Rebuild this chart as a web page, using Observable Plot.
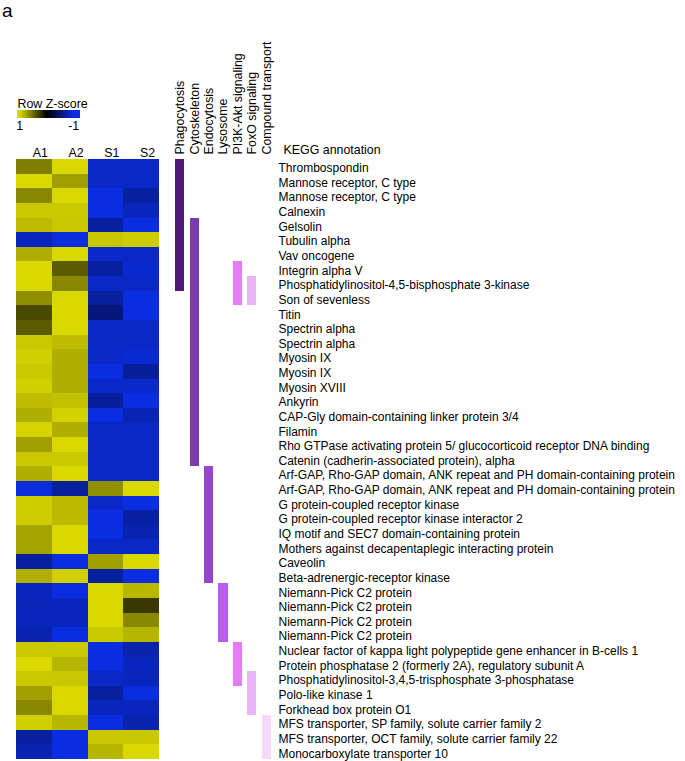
<!DOCTYPE html>
<html><head><meta charset="utf-8">
<script src="https://cdn.jsdelivr.net/npm/d3@7"></script>
<script src="https://cdn.jsdelivr.net/npm/@observablehq/plot@0.6"></script>
<style>
body{margin:0;background:#fff;}
#wrap{position:relative;width:685px;height:761px;overflow:hidden;background:#fff;font-family:"Liberation Sans",Arial,sans-serif;}
#wrap svg{position:absolute;left:0;top:0;}
#panel{position:absolute;left:2px;top:0px;font-size:19px;line-height:21px;color:#000;}
</style></head><body><div id="wrap"><div id="panel">a</div></div><script>
const samples = ["A1","A2","S1","S2"];
const genes = [
  "Thrombospondin",
  "Mannose receptor, C type",
  "Mannose receptor, C type",
  "Calnexin",
  "Gelsolin",
  "Tubulin alpha",
  "Vav oncogene",
  "Integrin alpha V",
  "Phosphatidylinositol-4,5-bisphosphate 3-kinase",
  "Son of sevenless",
  "Titin",
  "Spectrin alpha",
  "Spectrin alpha",
  "Myosin IX",
  "Myosin IX",
  "Myosin XVIII",
  "Ankyrin",
  "CAP-Gly domain-containing linker protein 3/4",
  "Filamin",
  "Rho GTPase activating protein 5/ glucocorticoid receptor DNA binding",
  "Catenin (cadherin-associated protein), alpha",
  "Arf-GAP, Rho-GAP domain, ANK repeat and PH domain-containing protein",
  "Arf-GAP, Rho-GAP domain, ANK repeat and PH domain-containing protein",
  "G protein-coupled receptor kinase",
  "G protein-coupled receptor kinase interactor 2",
  "IQ motif and SEC7 domain-containing protein",
  "Mothers against decapentaplegic interacting protein",
  "Caveolin",
  "Beta-adrenergic-receptor kinase",
  "Niemann-Pick C2 protein",
  "Niemann-Pick C2 protein",
  "Niemann-Pick C2 protein",
  "Niemann-Pick C2 protein",
  "Nuclear factor of kappa light polypeptide gene enhancer in B-cells 1",
  "Protein phosphatase 2 (formerly 2A), regulatory subunit A",
  "Phosphatidylinositol-3,4,5-trisphosphate 3-phosphatase",
  "Polo-like kinase 1",
  "Forkhead box protein O1",
  "MFS transporter, SP family, solute carrier family 2",
  "MFS transporter, OCT family, solute carrier family 22",
  "Monocarboxylate transporter 10"
];
// Row Z-scores (display clamped to [-1, 1])
const zA1 = [0.59,1,0.63,0.93,0.87,-0.84,0.8,1,1,0.66,0.34,0.42,0.93,0.96,0.93,0.96,0.87,0.81,0.98,0.74,0.93,0.81,-0.97,0.95,0.95,0.76,0.76,-0.7,0.81,-0.84,-0.82,-0.84,-0.78,0.93,1,0.93,0.74,0.63,0.96,-0.7,-0.78];
const zA2 = [1,0.74,1,0.93,0.92,-0.97,1,0.42,0.63,1,1,1,0.87,0.81,0.81,0.81,0.9,0.97,0.81,1,0.93,1,-0.7,0.86,0.86,1,1,-1,0.96,-1,-0.84,-0.84,-1,0.93,0.84,0.92,1,1,0.85,-1,-1];
const zS1 = [-0.88,-0.88,-1,-1,-0.7,0.92,-0.9,-0.7,-0.88,-0.7,-0.54,-0.88,-0.88,-0.88,-1,-0.9,-0.68,-1,-0.88,-0.88,-0.88,-0.88,0.67,-0.88,-1,-1,-0.88,0.74,-0.7,1,1,1,0.93,-1,-1,-0.88,-0.7,-0.84,-1,0.92,0.84];
const zS2 = [-0.88,-0.88,-0.7,-0.84,-1,0.95,-0.88,-0.92,-0.88,-1,-1,-0.88,-0.88,-0.93,-0.68,-0.9,-1,-0.8,-0.88,-0.88,-0.88,-0.88,1,-1,-0.72,-0.78,-0.88,1,-1,0.85,0.26,0.63,0.84,-0.77,-0.84,-0.84,-1,-0.84,-0.77,0.92,1];

const keggCategories = ["Phagocytosis","Cytoskeleton","Endocytosis","Lysosome","PI3K-Akt signaling","FoxO signaling","Compound transport"];
const keggColors = ["#4e1a7c","#7a3cb0","#9447cc","#b85ff0","#e47cf4","#e8b4f7","#f6d9f9"];
const phagocytosisRows = [1,2,3,4,5,6,7,8,9];
const cytoskeletonRows = [5,6,7,8,9,10,11,12,13,14,15,16,17,18,19,20,21];
const endocytosisRows = [22,23,24,25,26,27,28,29];
const lysosomeRows = [30,31,32,33];
const pi3kAktRows = [8,9,10,34,35,36];
const foxoRows = [9,10,36,37,38];
const compoundTransportRows = [39,40,41];
const keyTicks = [1, -1];
const keyTitle = "Row Z-score";
const annotationTitle = "KEGG annotation";

const W = 685, H = 761, FS = 12.4, FSR = 12;
const font = {fontFamily: '"Liberation Sans", Arial, sans-serif', fontSize: FS + "px", background: "transparent", overflow: "visible"};
const colorOpts = {type: "linear", domain: [-1, 0, 1], range: ["#0a2de2", "#000000", "#d9d800"], clamp: true, interpolate: "rgb"};
const rowIds = genes.map((g, i) => i);

const cells = [];
const zs = [zA1, zA2, zS1, zS2];
samples.forEach((s, k) => zs[k].forEach((z, i) => cells.push({sample: s, row: i, z})));

const heat = Plot.plot({
  width: W, height: H,
  marginLeft: 16, marginRight: W - 159, marginTop: 159, marginBottom: 2,
  x: {domain: samples, padding: 0, round: false},
  y: {domain: rowIds, padding: 0, round: false, axis: null},
  color: colorOpts,
  style: font,
  marks: [
    Plot.cell(cells, {x: "sample", y: "row", fill: "z", inset: 0, shapeRendering: "crispEdges"}),
    Plot.axisX({anchor: "top", tickSize: 0, tickPadding: 3, dx: 6, label: null, fontSize: FS})
  ]
});

const keggRows = [phagocytosisRows, cytoskeletonRows, endocytosisRows, lysosomeRows, pi3kAktRows, foxoRows, compoundTransportRows];
const membership = [];
keggCategories.forEach((c, k) => keggRows[k].forEach(r => membership.push({cat: c, row: r - 1})));

const annot = Plot.plot({
  width: W, height: H,
  marginLeft: 170, marginRight: W - 276, marginTop: 159, marginBottom: 2,
  x: {domain: keggCategories, padding: 0.37, round: false},
  y: {domain: rowIds, padding: 0, round: false},
  color: {domain: keggCategories, range: keggColors},
  style: font,
  marks: [
    Plot.cell(membership, {x: "cat", y: "row", fill: "cat", inset: 0, shapeRendering: "crispEdges"}),
    Plot.axisX({anchor: "top", tickSize: 0, tickPadding: 5, tickRotate: -90, label: null, fontSize: FS}),
    Plot.axisY({anchor: "right", ticks: rowIds, tickSize: 0, tickPadding: 2, dy: 1.5, tickFormat: i => genes[i], label: null, fontSize: FSR}),
    Plot.text([annotationTitle], {text: d => d, frameAnchor: "top-right", textAnchor: "start", lineAnchor: "bottom", dx: 7, dy: -6, fontSize: FS})
  ]
});

const keyStops = d3.range(1.08, -1.26, -0.02);
const key = Plot.plot({
  width: W, height: H,
  marginLeft: 17, marginRight: W - 80, marginTop: 110, marginBottom: H - 118,
  x: {domain: [1.08, -1.25]},
  color: colorOpts,
  style: font,
  marks: [
    Plot.barX(keyStops, {x1: d => d, x2: d => d - 0.025, fill: d => d, shapeRendering: "crispEdges"}),
    Plot.axisX({anchor: "bottom", ticks: keyTicks, tickSize: 0, tickPadding: 3, tickFormat: d => String(d), label: null, fontSize: FS}),
    Plot.text([keyTitle], {text: d => d, frameAnchor: "top-left", textAnchor: "start", lineAnchor: "bottom", dy: -3, fontSize: FS})
  ]
});

const wrap = document.getElementById("wrap");
wrap.appendChild(heat);
wrap.appendChild(annot);
wrap.appendChild(key);
</script></body></html>
